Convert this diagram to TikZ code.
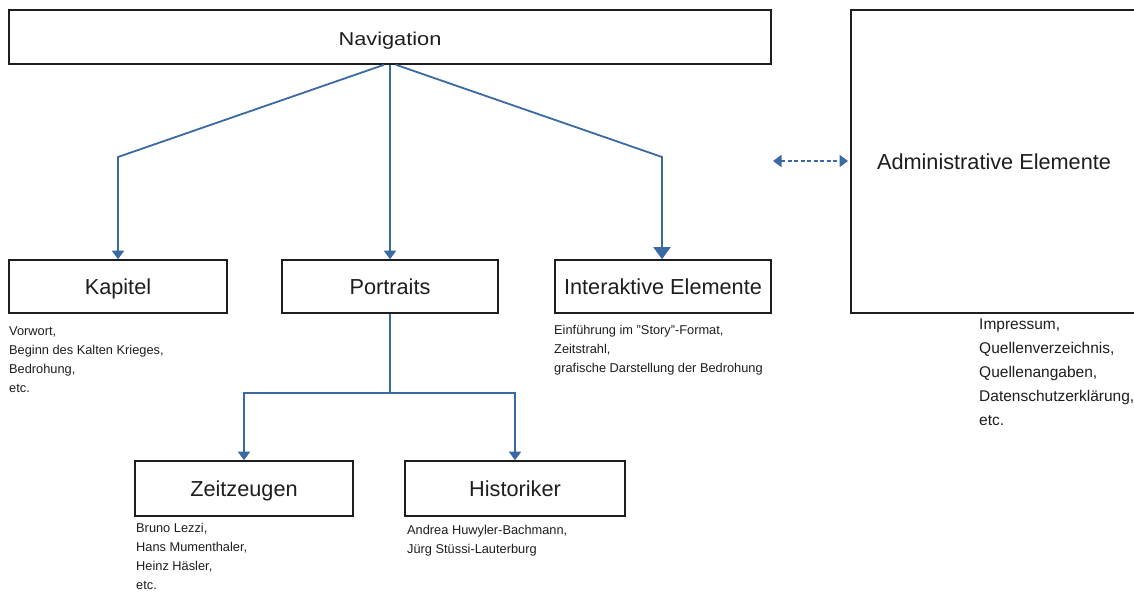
\documentclass[tikz,border=0pt]{standalone}
\usepackage{fontspec}
\setmainfont{Liberation Sans}
\usetikzlibrary{arrows.meta}
\definecolor{arrowblue}{HTML}{3A6AA3}
\definecolor{ink}{HTML}{1E1E1E}
\tikzset{
  box/.style={draw=ink, line width=1.6pt, rectangle, inner sep=0pt, text=ink,
    font=\fontsize{21.7}{24}\selectfont, text height=15.5pt, text depth=0pt},
  sub/.style={anchor=north west, align=left, inner sep=0pt, text=ink,
    font=\fontsize{12.8}{19}\selectfont},
  subbig/.style={anchor=north west, align=left, inner sep=0pt, text=ink,
    font=\fontsize{15.5}{23.8}\selectfont},
  link/.style={draw=arrowblue, line width=1.8pt, -{Triangle[width=12pt,length=8.5pt]}},
  biglink/.style={draw=arrowblue, line width=1.8pt, -{Triangle[width=17pt,length=12pt]}},
  dlink/.style={draw=arrowblue, line width=1.8pt, dash pattern=on 4pt off 2.5pt,
    {Triangle[width=12pt,length=8.5pt]}-{Triangle[width=12pt,length=8.5pt]}}
}
\begin{document}
\begin{tikzpicture}[x=1pt,y=-1pt]
\useasboundingbox (0,0) rectangle (1134,592);
\clip (0,0) rectangle (1134,592);
\fill[white] (0,0) rectangle (1134,592);

\node[box, minimum width=762, minimum height=54, font=\fontsize{18.6}{22}\selectfont, text height=13.3pt] (nav) at (390,37) {\raisebox{-2pt}{\scalebox{1.17}[1]{Navigation}}};
\node[box, minimum width=218, minimum height=53] (kap) at (118,286.5) {Kapitel};
\node[box, minimum width=216, minimum height=53] (port) at (390,286.5) {Portraits};
\node[box, minimum width=216, minimum height=53] (inter) at (663,286.5) {Interaktive Elemente};
\node[box, minimum width=286, minimum height=303] (admin) at (994,161.5) {Administrative Elemente};
\node[box, minimum width=218, minimum height=55] (zeit) at (244,488.5) {Zeitzeugen};
\node[box, minimum width=220, minimum height=55] (hist) at (515,488.5) {Historiker};

\node[sub] (kapsub) at (9,326) {Vorwort,\\Beginn des Kalten Krieges,\\Bedrohung,\\etc.};
\node[sub] (intersub) at (554,325) {Einführung im "Story"-Format,\\Zeitstrahl,\\grafische Darstellung der Bedrohung};
\node[subbig] (adminsub) at (979,319) {Impressum,\\Quellenverzeichnis,\\Quellenangaben,\\Datenschutzerklärung,\\etc.};
\node[sub] (zeitsub) at (136,523) {Bruno Lezzi,\\Hans Mumenthaler,\\Heinz Häsler,\\etc.};
\node[sub] (histsub) at (407,525) {Andrea Huwyler-Bachmann,\\Jürg Stüssi-Lauterburg};

\coordinate (kbend) at (118,157);
\coordinate (ibend) at (662,157);
\coordinate (pjoin) at (390,393);
\coordinate (dl) at (773,161);
\coordinate (dr) at (848,161);

\draw[link] ([xshift=-6pt]nav.south) -- (kbend) -- (kap.north);
\draw[link] (nav.south) -- (port.north);
\draw[biglink] ([xshift=6pt]nav.south) -- (ibend) -- ([xshift=-1pt]inter.north);
\draw[line width=1.8pt, draw=arrowblue] (port.south) -- (pjoin);
\draw[link] (pjoin) -| (zeit.north);
\draw[link] (pjoin) -| (hist.north);
\draw[dlink] (dl) -- (dr);
\end{tikzpicture}
\end{document}
